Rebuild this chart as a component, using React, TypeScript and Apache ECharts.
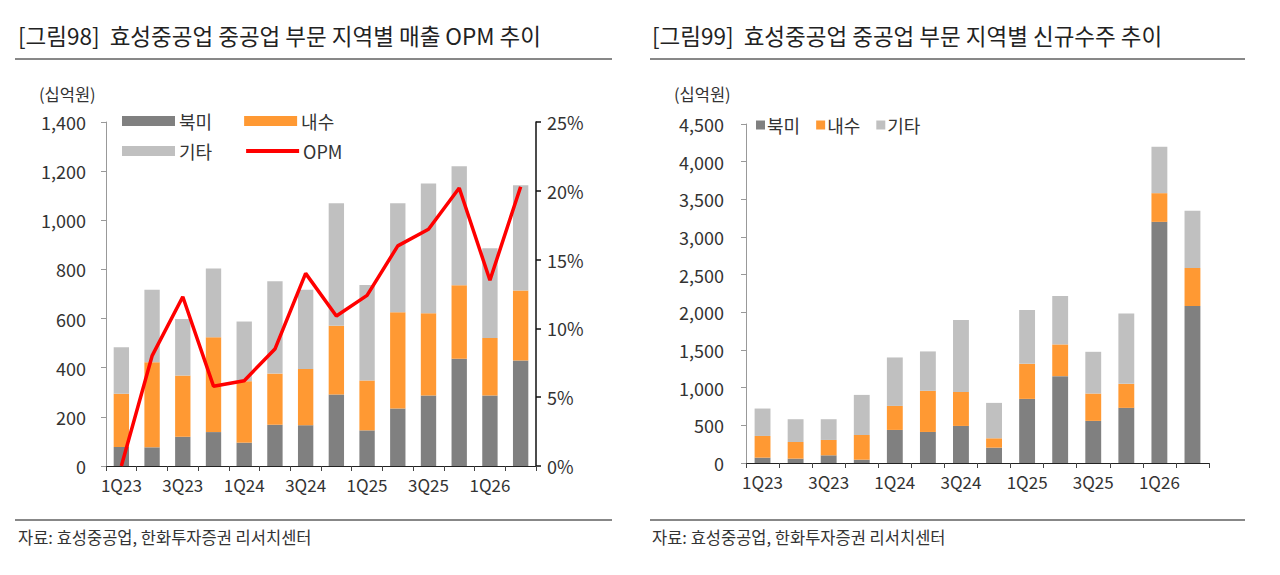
import React, { useEffect, useRef } from "react";
import * as echarts from "echarts";

const categories = ["1Q23", "2Q23", "3Q23", "4Q23", "1Q24", "2Q24", "3Q24", "4Q24", "1Q25", "2Q25", "3Q25", "4Q25", "1Q26", "2Q26"];

// 매출 (십억원)
const salesNA = [77, 76, 119, 138, 95, 168, 166, 291, 145, 234, 287, 436, 287, 429];
const salesDom = [217, 346, 249, 386, 250, 208, 229, 280, 203, 392, 335, 300, 234, 285];
const salesOther = [189, 295, 230, 280, 243, 376, 322, 498, 389, 443, 528, 484, 365, 429];
// OPM (%)
const opm = [0.0, 8.0, 12.3, 5.8, 6.2, 8.5, 14.0, 10.9, 12.4, 16.0, 17.2, 20.2, 13.5, 20.3];

// 신규수주 (십억원)
const ordNA = [71, 58, 102, 44, 439, 412, 492, 204, 851, 1153, 559, 732, 3201, 2084];
const ordDom = [288, 221, 204, 328, 319, 546, 452, 124, 466, 421, 363, 319, 381, 505];
const ordOther = [364, 302, 275, 532, 643, 523, 954, 470, 714, 643, 554, 935, 616, 758];

const FONT = "'Noto Sans CJK KR', 'Noto Sans', sans-serif";
const TXT = "#333333";
const C_NA = "#808080";
const C_DOM = "#FF9933";
const C_OTHER = "#C0C0C0";
const C_OPM = "#FF0000";

export default function App() {
  const ref = useRef<HTMLDivElement>(null);

  useEffect(() => {
    document.body.style.margin = "0";
    const chart = echarts.init(ref.current!, undefined, { renderer: "svg" });

    const xAxisBase = (gridIndex: number) => ({
      type: "category",
      gridIndex,
      data: categories,
      boundaryGap: true,
      axisLine: { show: true, lineStyle: { color: "#222222", width: 1 } },
      axisTick: { show: true, interval: 0, length: 5, lineStyle: { color: "#444444" } },
      axisLabel: { interval: 1, color: TXT, fontSize: 17, fontFamily: FONT, margin: 10 },
      splitLine: { show: false },
    });

    const option: any = {
      animation: false,
      textStyle: { fontFamily: FONT },
      graphic: [
        { type: "text", left: 18, top: 24, style: { text: "[그림98]  효성중공업 중공업 부문 지역별 매출 OPM 추이", fontSize: 22.5, fontFamily: FONT, fill: "#222222" } },
        { type: "text", left: 652, top: 24, style: { text: "[그림99]  효성중공업 중공업 부문 지역별 신규수주 추이", fontSize: 22.5, fontFamily: FONT, fill: "#222222" } },
        { type: "line", shape: { x1: 15, y1: 59, x2: 612, y2: 59 }, style: { stroke: "#111111", lineWidth: 1 } },
        { type: "line", shape: { x1: 650, y1: 59, x2: 1245, y2: 59 }, style: { stroke: "#111111", lineWidth: 1 } },
        { type: "line", shape: { x1: 15, y1: 520, x2: 612, y2: 520 }, style: { stroke: "#111111", lineWidth: 1 } },
        { type: "line", shape: { x1: 650, y1: 520, x2: 1245, y2: 520 }, style: { stroke: "#111111", lineWidth: 1 } },
        { type: "text", left: 18, top: 529, style: { text: "자료: 효성중공업, 한화투자증권 리서치센터", fontSize: 16.5, fontFamily: FONT, fill: TXT } },
        { type: "text", left: 652, top: 529, style: { text: "자료: 효성중공업, 한화투자증권 리서치센터", fontSize: 16.5, fontFamily: FONT, fill: TXT } },
        { type: "text", left: 39, top: 86, style: { text: "(십억원)", fontSize: 16.5, fontFamily: FONT, fill: TXT } },
        { type: "text", left: 674, top: 86, style: { text: "(십억원)", fontSize: 16.5, fontFamily: FONT, fill: TXT } },
      ],
      legend: [
        {
          data: ["북미", "내수"],
          left: 122,
          top: 112,
          padding: 0,
          itemWidth: 53,
          itemHeight: 10,
          itemGap: 32,
          icon: "rect",
          textStyle: { color: TXT, fontSize: 18, fontFamily: FONT, padding: [0, 0, 0, -1] },
          selectedMode: false,
        },
        {
          data: [
            { name: "기타", icon: "rect" },
            { name: "OPM", itemStyle: { opacity: 0 } },
          ],
          left: 122,
          top: 142,
          padding: 0,
          itemWidth: 53,
          itemHeight: 10,
          itemGap: 32,
          lineStyle: { width: 4 },
          textStyle: { color: TXT, fontSize: 18, fontFamily: FONT, padding: [0, 0, 0, -1] },
          selectedMode: false,
        },
        {
          data: ["북미 ", "내수 ", "기타 "],
          left: 756,
          top: 116,
          padding: 0,
          itemWidth: 9,
          itemHeight: 9,
          itemGap: 12,
          icon: "rect",
          textStyle: { color: TXT, fontSize: 18, fontFamily: FONT, padding: [0, 0, 0, -3] },
          selectedMode: false,
        },
      ],
      grid: [
        { left: 106, right: 744, top: 122, bottom: 109, containLabel: false },
        { left: 746, right: 71, top: 124, bottom: 112, containLabel: false },
      ],
      xAxis: [xAxisBase(0), xAxisBase(1)],
      yAxis: [
        {
          type: "value",
          gridIndex: 0,
          min: 0,
          max: 1400,
          interval: 200,
          axisLine: { show: true, lineStyle: { color: "#999999" } },
          axisTick: { show: true, length: 5, lineStyle: { color: "#999999" } },
          axisLabel: {
            color: TXT,
            fontSize: 18,
            fontFamily: FONT,
            margin: 20,
            formatter: (v: number) => v.toLocaleString("en-US"),
          },
          splitLine: { show: false },
        },
        {
          type: "value",
          gridIndex: 0,
          position: "right",
          min: 0,
          max: 25,
          interval: 5,
          axisLine: { show: true, lineStyle: { color: "#111111", width: 1.5 } },
          axisTick: { show: true, length: 5, lineStyle: { color: "#111111", width: 1.5 } },
          axisLabel: { color: TXT, fontSize: 18, fontFamily: FONT, margin: 11, formatter: "{value}%" },
          splitLine: { show: false },
        },
        {
          type: "value",
          gridIndex: 1,
          min: 0,
          max: 4500,
          interval: 500,
          axisLine: { show: true, lineStyle: { color: "#999999" } },
          axisTick: { show: true, length: 5, lineStyle: { color: "#999999" } },
          axisLabel: {
            color: TXT,
            fontSize: 18,
            fontFamily: FONT,
            margin: 22,
            formatter: (v: number) => v.toLocaleString("en-US"),
          },
          splitLine: { show: false },
        },
      ],
      series: [
        { name: "북미", type: "bar", stack: "s", xAxisIndex: 0, yAxisIndex: 0, barWidth: "50%", data: salesNA, itemStyle: { color: C_NA } },
        { name: "내수", type: "bar", stack: "s", xAxisIndex: 0, yAxisIndex: 0, data: salesDom, itemStyle: { color: C_DOM } },
        { name: "기타", type: "bar", stack: "s", xAxisIndex: 0, yAxisIndex: 0, data: salesOther, itemStyle: { color: C_OTHER } },
        {
          name: "OPM",
          type: "line",
          xAxisIndex: 0,
          yAxisIndex: 1,
          data: opm,
          symbol: "none",
          lineStyle: { color: C_OPM, width: 3.5 },
          itemStyle: { color: C_OPM },
          z: 5,
        },
        { name: "북미 ", type: "bar", stack: "o", xAxisIndex: 1, yAxisIndex: 2, barWidth: "48%", data: ordNA, itemStyle: { color: C_NA } },
        { name: "내수 ", type: "bar", stack: "o", xAxisIndex: 1, yAxisIndex: 2, data: ordDom, itemStyle: { color: C_DOM } },
        { name: "기타 ", type: "bar", stack: "o", xAxisIndex: 1, yAxisIndex: 2, data: ordOther, itemStyle: { color: C_OTHER } },
      ],
    };

    chart.setOption(option);
    return () => chart.dispose();
  }, []);

  return <div ref={ref} style={{ width: 1280, height: 575, background: "#ffffff" }} />;
}
